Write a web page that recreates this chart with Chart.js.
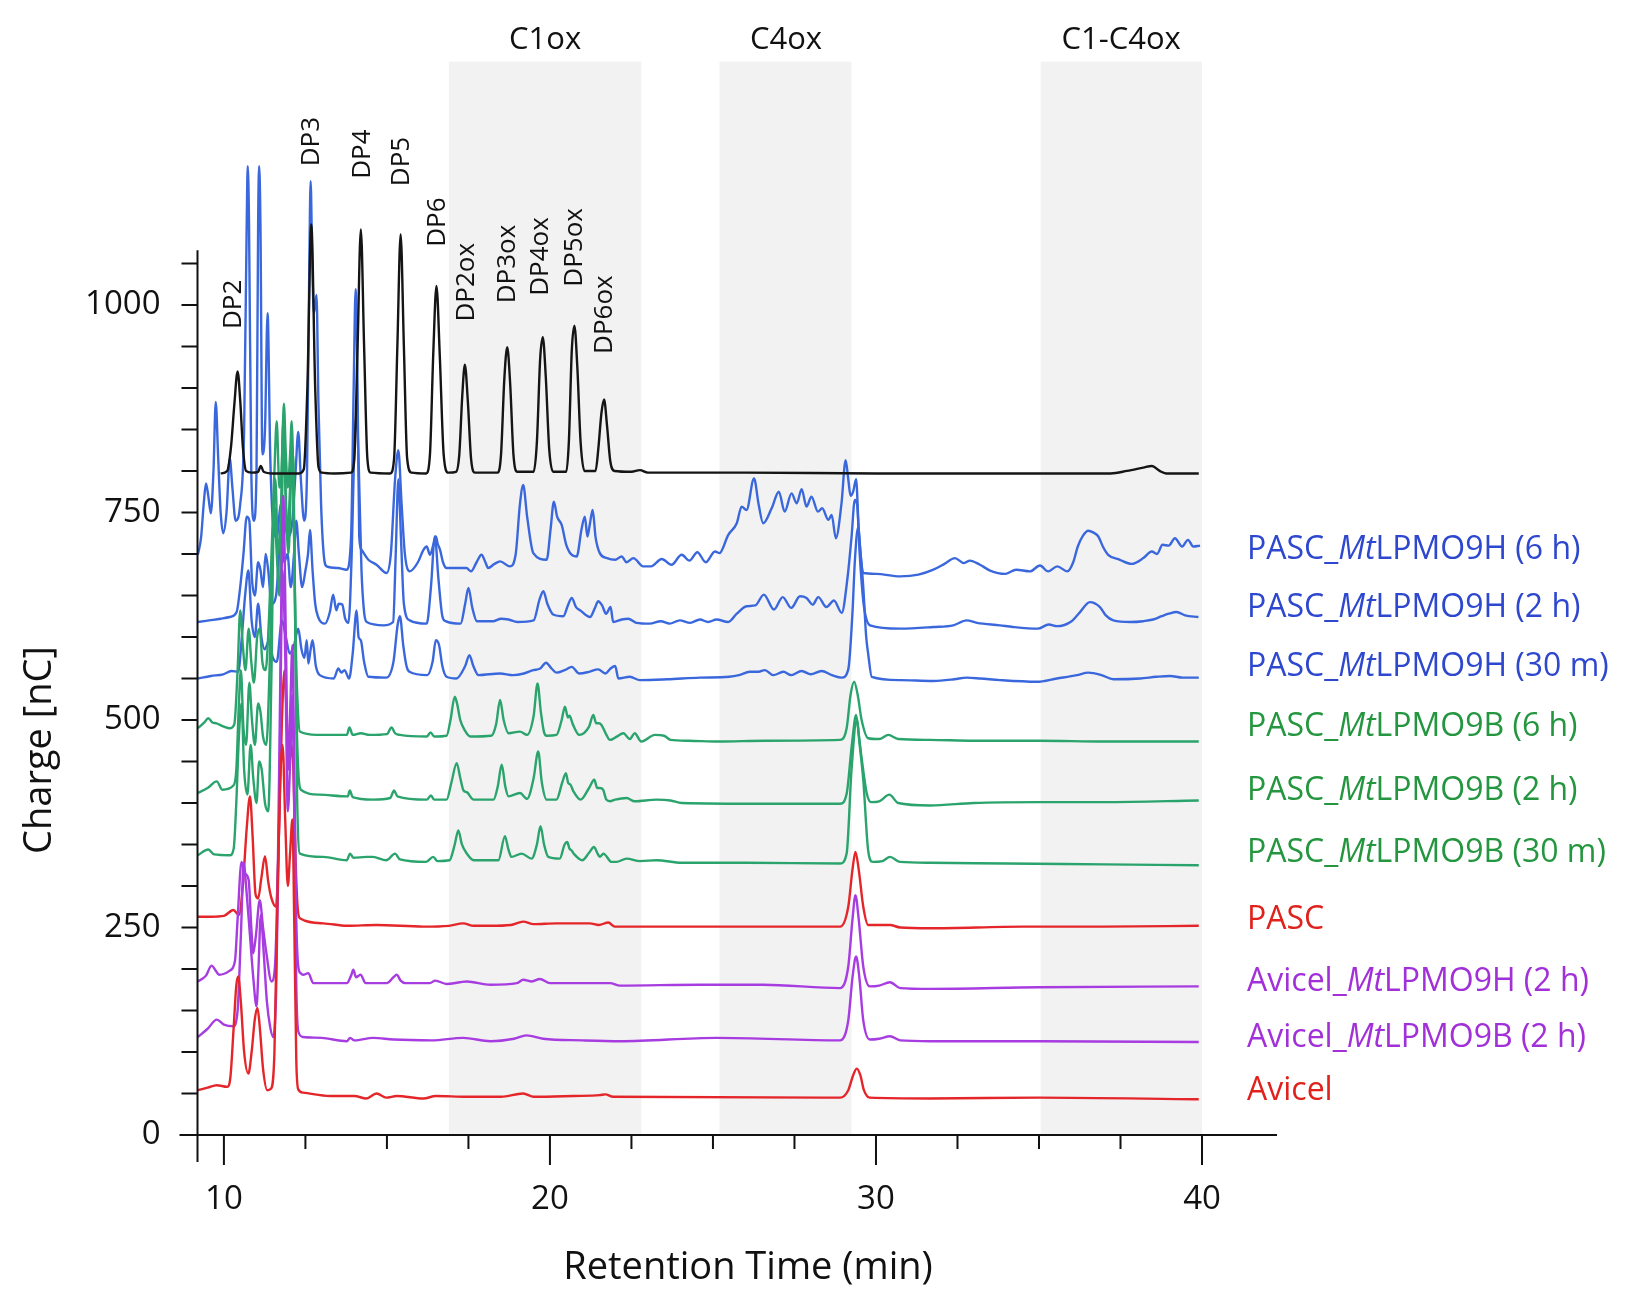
<!DOCTYPE html>
<html>
<head>
<meta charset="utf-8">
<script src="https://cdn.jsdelivr.net/npm/chart.js@4.4.1/dist/chart.umd.min.js"></script>
<style>
  html, body { margin: 0; padding: 0; background: #fff; }
  #wrap { width: 1650px; height: 1311px; }
</style>
</head>
<body>
<div id="wrap"><canvas id="chromChart" width="1650" height="1311"></canvas></div>
<script>
// Retention time (min) / charge (nC) pairs
const standardTrace = [[9.9,797],[10.1,800],[10.22,830],[10.32,880],[10.42,920],[10.5,885],[10.58,830],[10.68,800],[10.85,798],[11.05,799],[11.13,806],[11.22,799],[11.5,797],[12.3,797],[12.45,802],[12.56,900],[12.68,1097],[12.8,900],[12.9,805],[13.0,798],[13.4,797],[13.9,798],[14.0,815],[14.1,950],[14.2,1091],[14.3,950],[14.4,815],[14.5,798],[15.1,797],[15.22,815],[15.32,950],[15.42,1085],[15.52,950],[15.62,815],[15.75,798],[16.2,797],[16.32,820],[16.42,940],[16.52,1023],[16.62,940],[16.74,820],[16.88,798],[17.12,799],[17.22,820],[17.31,890],[17.39,928],[17.48,885],[17.58,815],[17.7,798],[18.4,798],[18.5,820],[18.6,910],[18.69,949],[18.78,905],[18.88,820],[19.0,799],[19.5,799],[19.6,835],[19.7,935],[19.78,961],[19.87,915],[19.98,825],[20.1,799],[20.5,799],[20.58,835],[20.67,945],[20.75,975],[20.84,925],[20.94,835],[21.06,800],[21.4,800],[21.48,825],[21.58,870],[21.66,886],[21.75,855],[21.85,812],[21.98,800],[22.5,799],[22.76,801],[23.0,798],[26.0,798],[30.0,797],[34.0,797],[37.2,797],[37.7,800],[38.2,804],[38.46,806],[38.7,800],[38.9,797],[39.9,797]];

const pascMt9H6h = [[9.2,699],[9.3,720],[9.38,760],[9.45,785],[9.52,770],[9.6,749],[9.68,800],[9.75,883],[9.82,820],[9.9,750],[9.98,725],[10.08,750],[10.18,815],[10.26,780],[10.36,740],[10.5,760],[10.62,850],[10.7,1100],[10.73,1167],[10.77,1100],[10.84,800],[10.92,740],[11.0,800],[11.05,1100],[11.08,1167],[11.12,1100],[11.18,820],[11.26,850],[11.34,990],[11.42,820],[11.5,740],[11.62,720],[11.75,760],[11.85,740],[11.98,720],[12.1,740],[12.2,800],[12.28,847],[12.36,790],[12.46,740],[12.55,800],[12.62,1050],[12.66,1149],[12.71,1050],[12.76,990],[12.84,1012],[12.9,880],[12.98,760],[13.06,700],[13.15,685],[13.5,683],[13.76,681],[13.9,720],[13.98,900],[14.04,1019],[14.1,900],[14.15,721],[14.22,705],[14.43,693],[14.68,687],[14.99,677],[15.12,700],[15.25,790],[15.35,825],[15.45,760],[15.55,700],[15.7,679],[15.95,690],[16.12,705],[16.22,709],[16.32,699],[16.43,712],[16.5,721],[16.56,712],[16.63,705],[16.72,690],[16.83,683],[17.44,683],[17.58,679],[17.75,690],[17.9,699],[18.02,690],[18.1,683],[18.3,688],[18.47,691],[18.77,685],[18.95,700],[19.08,760],[19.18,783],[19.3,745],[19.49,701],[19.9,693],[20.02,730],[20.12,763],[20.22,745],[20.36,735],[20.5,711],[20.7,698],[20.82,697],[20.97,730],[21.07,745],[21.15,721],[21.22,735],[21.31,753],[21.4,720],[21.53,701],[21.75,695],[22.0,693],[22.2,697],[22.35,690],[22.56,695],[22.86,685],[23.1,685],[23.43,694],[23.73,687],[24.04,699],[24.28,692],[24.52,702],[24.78,690],[25.06,703],[25.2,701],[25.47,723],[25.73,737],[25.88,757],[26.03,753],[26.26,791],[26.4,760],[26.54,737],[26.8,755],[27.02,775],[27.2,751],[27.41,773],[27.57,761],[27.72,778],[27.87,757],[28.02,769],[28.22,751],[28.35,755],[28.54,741],[28.64,747],[28.77,719],[28.94,760],[29.07,813],[29.15,790],[29.22,770],[29.3,775],[29.39,790],[29.47,730],[29.55,690],[29.61,677],[30.0,676],[30.74,673],[31.3,675],[31.76,681],[32.1,688],[32.42,695],[32.7,689],[32.88,692],[33.19,687],[33.5,680],[33.96,676],[34.3,681],[34.72,679],[35.03,686],[35.28,679],[35.56,685],[35.87,679],[36.05,690],[36.19,709],[36.35,722],[36.51,728],[36.66,726],[36.82,721],[36.97,708],[37.12,699],[37.48,693],[37.84,688],[38.2,695],[38.46,703],[38.62,700],[38.79,711],[38.98,710],[39.17,719],[39.39,709],[39.57,717],[39.73,709],[39.94,710]];

const pascMt9H2h = [[9.2,618],[9.55,620],[9.9,622],[10.18,624],[10.39,630],[10.5,660],[10.6,700],[10.7,745],[10.78,740],[10.86,670],[10.95,650],[11.05,690],[11.12,681],[11.2,660],[11.28,700],[11.36,680],[11.46,640],[11.6,650],[11.75,720],[11.85,690],[11.95,700],[12.05,660],[12.15,700],[12.22,740],[12.3,700],[12.4,660],[12.5,680],[12.58,700],[12.64,729],[12.72,680],[12.8,640],[12.89,624],[13.1,616],[13.25,630],[13.35,651],[13.45,632],[13.52,640],[13.63,639],[13.72,622],[13.82,617],[13.92,700],[14.0,830],[14.07,870],[14.14,800],[14.22,680],[14.3,630],[14.38,618],[14.9,614],[15.19,618],[15.27,700],[15.35,790],[15.43,720],[15.52,640],[15.7,620],[16.22,616],[16.35,660],[16.47,721],[16.58,670],[16.7,625],[16.8,619],[17.26,616],[17.4,640],[17.5,659],[17.62,635],[17.76,619],[18.27,619],[18.5,622],[18.73,621],[19.0,618],[19.5,620],[19.68,645],[19.8,655],[19.92,640],[20.1,627],[20.41,625],[20.55,638],[20.67,647],[20.8,636],[20.93,632],[21.23,624],[21.38,635],[21.48,643],[21.6,638],[21.72,628],[21.86,636],[21.94,618],[22.2,621],[22.4,622],[22.65,617],[23.06,616],[23.4,619],[23.67,616],[23.98,620],[24.3,617],[24.6,621],[24.85,618],[25.11,621],[25.47,618],[25.73,628],[26.03,637],[26.3,638],[26.56,651],[26.87,633],[27.14,648],[27.4,635],[27.67,649],[27.87,647],[28.06,639],[28.23,648],[28.48,636],[28.71,644],[28.95,629],[29.12,669],[29.25,720],[29.35,765],[29.42,760],[29.5,700],[29.62,640],[29.82,614],[30.74,610],[31.76,612],[32.37,614],[32.78,620],[33.1,617],[33.8,614],[34.2,612],[34.96,610],[35.3,615],[35.55,613],[36.0,619],[36.26,630],[36.56,642],[36.87,636],[37.05,626],[37.28,620],[37.8,618],[38.2,619],[38.5,621],[38.76,625],[38.98,628],[39.22,630],[39.48,626],[39.89,624]];

const pascMt9H30m = [[9.2,550],[9.6,553],[9.98,555],[10.23,559],[10.44,558],[10.55,600],[10.65,650],[10.75,680],[10.85,620],[10.95,600],[11.05,640],[11.15,600],[11.25,585],[11.39,596],[11.5,575],[11.62,570],[11.78,620],[11.9,600],[12.02,580],[12.15,590],[12.28,610],[12.38,585],[12.47,575],[12.54,596],[12.59,568],[12.66,585],[12.72,596],[12.82,565],[12.94,554],[13.37,550],[13.51,562],[13.6,557],[13.7,560],[13.84,550],[13.95,580],[14.07,632],[14.13,600],[14.2,596],[14.3,570],[14.43,552],[14.98,551],[15.2,570],[15.33,615],[15.4,625],[15.5,590],[15.6,565],[15.69,558],[16.24,554],[16.4,570],[16.5,596],[16.6,590],[16.7,565],[16.83,552],[17.13,550],[17.4,565],[17.53,578],[17.65,565],[17.81,554],[18.47,556],[18.87,554],[19.2,556],[19.49,560],[19.7,562],[19.88,569],[20.05,562],[20.2,557],[20.45,560],[20.67,564],[20.9,556],[21.2,558],[21.48,561],[21.7,556],[21.86,562],[22.0,565],[22.1,550],[22.45,552],[22.76,548],[23.6,549],[24.6,551],[25.5,552],[25.8,554],[26.13,558],[26.4,558],[26.59,560],[26.85,554],[27.16,558],[27.4,554],[27.72,559],[28.0,555],[28.33,559],[28.65,554],[28.95,551],[29.15,561],[29.28,630],[29.35,690],[29.45,732],[29.53,700],[29.61,660],[29.7,600],[29.76,580],[29.87,552],[30.74,548],[31.76,547],[32.4,549],[32.78,551],[33.2,550],[33.8,548],[34.93,546],[35.55,550],[36.16,554],[36.51,557],[36.92,554],[37.28,549],[38.1,550],[38.6,552],[39.02,553],[39.4,551],[39.9,551]];

const pascMt9B6h = [[9.2,490],[9.4,497],[9.52,502],[9.65,497],[9.77,496],[10.0,492],[10.18,490],[10.32,495],[10.42,560],[10.5,632],[10.58,590],[10.66,560],[10.76,610],[10.84,570],[10.92,545],[11.02,600],[11.1,610],[11.18,570],[11.28,560],[11.38,620],[11.46,700],[11.55,800],[11.62,860],[11.7,780],[11.77,800],[11.84,881],[11.9,820],[11.96,780],[12.03,820],[12.08,860],[12.14,760],[12.2,600],[12.26,520],[12.33,486],[12.85,482],[13.77,482],[13.85,491],[13.95,482],[14.2,484],[14.47,482],[15.0,483],[15.14,491],[15.25,484],[15.4,482],[16.22,480],[16.34,485],[16.45,480],[16.83,481],[16.95,500],[17.08,528],[17.15,520],[17.25,500],[17.38,488],[17.56,480],[18.2,481],[18.35,495],[18.47,524],[18.58,500],[18.73,484],[19.08,486],[19.3,482],[19.5,505],[19.62,544],[19.72,510],[19.82,485],[19.9,481],[20.2,482],[20.36,500],[20.46,516],[20.55,503],[20.6,505],[20.7,495],[20.9,482],[21.2,492],[21.33,506],[21.42,496],[21.5,496],[21.58,494],[21.72,483],[21.84,476],[22.05,480],[22.25,484],[22.45,477],[22.6,484],[22.8,474],[23.22,482],[23.5,481],[23.7,476],[24.25,475],[25.17,474],[26.6,475],[28.9,476],[29.1,490],[29.22,530],[29.33,546],[29.44,530],[29.56,500],[29.76,478],[30.1,477],[30.38,482],[30.68,477],[31.66,476],[33.0,475],[35.0,475],[37.0,474],[39.9,474]];

const pascMt9B2h = [[9.2,412],[9.5,418],[9.78,426],[9.95,416],[10.29,421],[10.38,440],[10.46,520],[10.52,560],[10.6,490],[10.68,470],[10.78,545],[10.86,500],[10.95,470],[11.05,520],[11.12,510],[11.2,480],[11.3,470],[11.4,560],[11.5,720],[11.58,790],[11.66,700],[11.74,740],[11.82,860],[11.88,790],[11.95,720],[12.03,780],[12.1,830],[12.16,700],[12.22,520],[12.28,440],[12.36,416],[12.94,410],[13.8,408],[13.86,415],[13.95,407],[14.57,404],[15.1,406],[15.22,415],[15.32,408],[16.22,404],[16.35,409],[16.45,404],[16.83,404],[16.98,425],[17.14,448],[17.25,430],[17.35,415],[17.45,413],[17.66,404],[18.27,404],[18.4,420],[18.52,446],[18.63,420],[18.73,408],[19.08,412],[19.3,405],[19.5,430],[19.64,462],[19.75,425],[19.9,404],[20.2,404],[20.38,425],[20.49,436],[20.56,424],[20.63,422],[20.72,414],[20.94,404],[21.2,418],[21.36,428],[21.45,418],[21.53,418],[21.63,416],[21.73,404],[21.84,402],[22.0,404],[22.35,406],[22.6,402],[23.27,404],[23.7,403],[24.04,400],[26.6,399],[28.9,399],[29.1,411],[29.26,470],[29.39,506],[29.48,480],[29.56,454],[29.72,411],[29.85,401],[30.1,402],[30.41,410],[30.68,400],[31.66,397],[33.0,400],[35.0,401],[37.0,401],[39.9,403]];

const pascMt9B30m = [[9.2,337],[9.52,344],[9.7,338],[10.18,337],[10.3,345],[10.38,400],[10.46,480],[10.54,520],[10.62,440],[10.72,410],[10.82,470],[10.9,430],[11.0,400],[11.08,450],[11.16,440],[11.26,400],[11.36,390],[11.46,560],[11.54,760],[11.62,700],[11.7,650],[11.78,760],[11.84,845],[11.9,760],[11.98,700],[12.06,790],[12.12,820],[12.18,640],[12.24,420],[12.33,339],[13.05,335],[13.77,331],[13.87,339],[13.97,334],[14.37,335],[14.57,335],[14.98,331],[15.25,339],[15.4,332],[16.2,329],[16.42,335],[16.55,330],[16.92,331],[17.08,350],[17.19,367],[17.3,350],[17.45,339],[17.66,331],[18.42,331],[18.62,360],[18.72,345],[18.82,335],[19.13,339],[19.44,333],[19.6,350],[19.71,372],[19.82,350],[19.95,335],[20.3,333],[20.45,350],[20.53,353],[20.6,345],[20.66,343],[20.75,338],[20.99,331],[21.2,340],[21.35,347],[21.45,340],[21.53,335],[21.64,339],[21.89,329],[22.04,329],[22.35,333],[22.76,330],[23.27,331],[24.04,328],[26.0,328],[28.9,327],[29.1,339],[29.25,440],[29.41,500],[29.5,470],[29.61,428],[29.76,343],[29.9,329],[30.2,330],[30.43,335],[30.74,329],[31.66,328],[34.0,327],[37.0,326],[39.9,325]];

const pascControl = [[9.2,263],[9.6,263],[10.0,264],[10.29,271],[10.46,265],[10.58,300],[10.7,370],[10.8,408],[10.88,360],[10.97,290],[11.05,285],[11.15,310],[11.26,336],[11.36,305],[11.46,285],[11.6,275],[11.7,380],[11.78,500],[11.86,560],[11.93,500],[12.0,445],[12.07,470],[12.13,440],[12.2,330],[12.26,275],[12.33,261],[13.05,255],[13.77,252],[14.69,253],[16.12,251],[16.9,252],[17.34,255],[17.66,252],[18.17,252],[18.8,253],[19.18,257],[19.5,254],[20.2,255],[21.22,255],[21.5,253],[21.79,256],[21.99,251],[24.6,251],[28.9,251],[29.15,275],[29.28,320],[29.37,341],[29.47,320],[29.61,275],[29.76,253],[30.43,253],[30.74,250],[31.66,249],[34.5,251],[37.0,251],[39.9,252]];

const avicelMt9H2h = [[9.2,185],[9.45,192],[9.62,204],[9.75,198],[9.85,193],[10.18,198],[10.34,210],[10.42,260],[10.54,329],[10.65,315],[10.76,307],[10.84,250],[10.9,219],[10.98,240],[11.1,283],[11.2,250],[11.3,220],[11.46,185],[11.56,200],[11.66,340],[11.74,580],[11.82,770],[11.9,600],[11.97,440],[12.04,520],[12.1,590],[12.16,430],[12.22,260],[12.28,203],[12.35,195],[12.43,193],[12.59,195],[12.74,183],[13.77,183],[13.9,192],[13.97,199],[14.05,190],[14.19,193],[14.35,183],[15.0,183],[15.2,190],[15.3,193],[15.42,186],[15.56,183],[16.32,183],[16.48,186],[16.83,182],[17.24,184],[17.45,185],[18.17,181],[18.99,183],[19.18,187],[19.45,185],[19.69,188],[20.0,183],[20.71,183],[21.84,183],[22.15,180],[24.6,181],[26.54,181],[28.9,177],[29.15,203],[29.28,260],[29.37,289],[29.47,260],[29.61,203],[29.81,179],[30.1,180],[30.43,184],[30.74,177],[31.66,176],[35.0,178],[39.9,179]];

const avicelMt9B2h = [[9.2,118],[9.5,128],[9.78,139],[10.0,133],[10.29,131],[10.42,150],[10.52,240],[10.61,328],[10.68,300],[10.8,240],[10.9,190],[11.0,155],[11.06,200],[11.13,265],[11.22,220],[11.32,160],[11.42,130],[11.51,118],[11.6,170],[11.7,400],[11.8,680],[11.88,580],[11.96,390],[12.04,460],[12.1,530],[12.16,380],[12.22,180],[12.28,125],[12.43,118],[13.0,117],[13.77,113],[13.87,117],[14.0,114],[14.58,117],[15.2,115],[16.37,114],[17.34,117],[18.17,113],[18.9,116],[19.28,120],[19.79,116],[21.0,114],[22.15,113],[25.11,117],[28.9,114],[29.15,138],[29.28,190],[29.39,215],[29.49,190],[29.61,138],[29.81,115],[30.1,116],[30.43,119],[30.74,114],[31.66,113],[35.0,113],[39.9,112]];

const avicelControl = [[9.2,54],[9.5,57],[9.78,60],[10.1,58],[10.2,70],[10.3,130],[10.38,180],[10.44,191],[10.52,160],[10.62,100],[10.75,74],[10.85,100],[10.95,140],[11.03,153],[11.1,130],[11.2,80],[11.33,54],[11.45,56],[11.55,100],[11.63,260],[11.72,420],[11.8,470],[11.88,380],[11.96,300],[12.03,340],[12.1,380],[12.16,250],[12.22,90],[12.28,55],[12.43,51],[13.25,47],[14.0,47],[14.37,44],[14.68,50],[14.98,45],[15.3,47],[16.12,44],[16.5,47],[17.45,46],[18.5,46],[19.18,50],[19.5,46],[20.71,47],[21.53,48],[21.7,49],[21.94,46],[28.9,45],[29.15,54],[29.3,72],[29.41,80],[29.52,72],[29.63,54],[29.81,45],[31.66,44],[35.0,45],[39.9,43]];

// Sample names (top to bottom) and where each name sits on the charge axis
const sampleNames = ['PASC_MtLPMO9H (6 h)', 'PASC_MtLPMO9H (2 h)', 'PASC_MtLPMO9H (30 m)',
  'PASC_MtLPMO9B (6 h)', 'PASC_MtLPMO9B (2 h)', 'PASC_MtLPMO9B (30 m)',
  'PASC', 'Avicel_MtLPMO9H (2 h)', 'Avicel_MtLPMO9B (2 h)', 'Avicel'];
const sampleNameLevels = [705, 635, 564, 492, 414, 340, 259, 184, 117, 53];

// Product regions (min) and peak annotations [name, time, charge]
const regionNames = ['C1ox', 'C4ox', 'C1-C4ox'];
const regionStarts = [16.9, 25.2, 35.05];
const regionEnds = [22.8, 29.25, 40.0];
const peakNames = ['DP2', 'DP3', 'DP4', 'DP5', 'DP6', 'DP2ox', 'DP3ox', 'DP4ox', 'DP5ox', 'DP6ox'];
const peakTimes = [10.31, 12.7, 14.26, 15.46, 16.56, 17.45, 18.71, 19.72, 20.77, 21.69];
const peakLevels = [971, 1167, 1152, 1143, 1070, 980, 1002, 1011, 1022, 941];

// Axis ticks
const xMajorTicks = [10, 20, 30, 40];
const xMinorTicks = [12.5, 15, 17.5, 22.5, 25, 27.5, 32.5, 35, 37.5];
const yMajorTicks = [0, 250, 500, 750, 1000];
const yMinorTicks = [50, 100, 150, 200, 300, 350, 400, 450, 550, 600, 650, 700, 800, 850, 900, 950, 1050];

const BLUE = '#3a68dc', GREEN = '#2aa46c', RED = '#e4262a', PURPLE = '#a73ce0', BLACK = '#151515';
const sampleColors = ['#2d47cf', '#2d47cf', '#2d47cf', '#24963f', '#24963f', '#24963f', '#e0211c', '#a230d8', '#a230d8', '#e0211c'];

const FONT = "'Open Sans', 'DejaVu Sans', sans-serif";

function toPoints(arr) {
  return arr.map(p => ({ x: p[0], y: p[1] }));
}

function trace(label, arr, color) {
  return {
    label: label,
    data: toPoints(arr),
    borderColor: color,
    borderWidth: 2.4,
    pointRadius: 0,
    fill: false,
    cubicInterpolationMode: 'monotone'
  };
}

// draw a name with the "Mt" part in italic
function drawSampleName(ctx, name, x, y, color) {
  ctx.fillStyle = color;
  ctx.textBaseline = 'middle';
  ctx.textAlign = 'left';
  const parts = name.split('Mt');
  ctx.font = '32px ' + FONT;
  ctx.fillText(parts[0], x, y);
  if (parts.length < 2) return;
  let cx = x + ctx.measureText(parts[0]).width;
  ctx.font = 'italic 32px ' + FONT;
  ctx.fillText('Mt', cx, y);
  cx += ctx.measureText('Mt').width;
  ctx.font = '32px ' + FONT;
  ctx.fillText(parts[1], cx, y);
}

const decorPlugin = {
  id: 'decor',
  beforeDatasetsDraw(chart) {
    const ctx = chart.ctx;
    const xs = chart.scales.x, ys = chart.scales.y;
    ctx.save();
    ctx.fillStyle = '#f2f2f2';
    const top = ys.getPixelForValue(1293), bottom = ys.getPixelForValue(0);
    for (let i = 0; i < regionStarts.length; i++) {
      const l = xs.getPixelForValue(regionStarts[i]);
      const r = xs.getPixelForValue(regionEnds[i]);
      ctx.fillRect(l, top, r - l, bottom - top);
    }
    ctx.restore();
  },
  afterDatasetsDraw(chart) {
    const ctx = chart.ctx;
    const xs = chart.scales.x, ys = chart.scales.y;
    const x0 = xs.getPixelForValue(xs.min);
    const y0 = ys.getPixelForValue(0);
    ctx.save();
    ctx.strokeStyle = '#111';
    ctx.lineWidth = 2;
    ctx.beginPath();
    // axes lines
    ctx.moveTo(x0 - 18, y0);
    ctx.lineTo(xs.getPixelForValue(xs.max), y0);
    ctx.moveTo(x0, y0 + 27);
    ctx.lineTo(x0, ys.getPixelForValue(1066));
    yMajorTicks.concat(yMinorTicks).forEach(v => {
      const py = ys.getPixelForValue(v);
      ctx.moveTo(x0 - 16, py);
      ctx.lineTo(x0, py);
    });
    xMajorTicks.forEach(v => {
      const px = xs.getPixelForValue(v);
      ctx.moveTo(px, y0);
      ctx.lineTo(px, y0 + 30);
    });
    xMinorTicks.forEach(v => {
      const px = xs.getPixelForValue(v);
      ctx.moveTo(px, y0);
      ctx.lineTo(px, y0 + 14);
    });
    ctx.stroke();

    ctx.fillStyle = '#111';
    ctx.font = '33px ' + FONT;
    ctx.textAlign = 'center';
    ctx.textBaseline = 'middle';
    xMajorTicks.forEach(v => ctx.fillText(String(v), xs.getPixelForValue(v), y0 + 65));
    ctx.textAlign = 'right';
    yMajorTicks.forEach(v => ctx.fillText(String(v), x0 - 37, ys.getPixelForValue(v)));

    // axis titles
    ctx.font = '38px ' + FONT;
    ctx.textAlign = 'center';
    ctx.fillText('Retention Time (min)', 748, 1268);
    ctx.save();
    ctx.translate(40, 750);
    ctx.rotate(-Math.PI / 2);
    ctx.fillText('Charge [nC]', 0, 0);
    ctx.restore();

    // region names
    ctx.font = '31px ' + FONT;
    const regionLabelX = [19.85, 27.24, 37.52];
    regionNames.forEach((n, i) => ctx.fillText(n, xs.getPixelForValue(regionLabelX[i]), ys.getPixelForValue(1319)));

    // peak names, rotated
    ctx.font = '26px ' + FONT;
    ctx.textAlign = 'left';
    peakNames.forEach((n, i) => {
      ctx.save();
      ctx.translate(xs.getPixelForValue(peakTimes[i]), ys.getPixelForValue(peakLevels[i]));
      ctx.rotate(-Math.PI / 2);
      ctx.fillText(n, 0, 0);
      ctx.restore();
    });

    // sample names on the right
    const nameX = xs.getPixelForValue(41.38);
    sampleNames.forEach((n, i) => drawSampleName(ctx, n, nameX, ys.getPixelForValue(sampleNameLevels[i]), sampleColors[i]));
    ctx.restore();
  }
};

const ctx = document.getElementById('chromChart').getContext('2d');
const chromChart = new Chart(ctx, {
  type: 'line',
  data: {
    datasets: [
      trace('Standard', standardTrace, BLACK),
      trace('Avicel', avicelControl, RED),
      trace('Avicel_MtLPMO9B (2 h)', avicelMt9B2h, PURPLE),
      trace('Avicel_MtLPMO9H (2 h)', avicelMt9H2h, PURPLE),
      trace('PASC', pascControl, RED),
      trace('PASC_MtLPMO9B (30 m)', pascMt9B30m, GREEN),
      trace('PASC_MtLPMO9B (2 h)', pascMt9B2h, GREEN),
      trace('PASC_MtLPMO9B (6 h)', pascMt9B6h, GREEN),
      trace('PASC_MtLPMO9H (30 m)', pascMt9H30m, BLUE),
      trace('PASC_MtLPMO9H (2 h)', pascMt9H2h, BLUE),
      trace('PASC_MtLPMO9H (6 h)', pascMt9H6h, BLUE)
    ]
  },
  options: {
    responsive: false,
    devicePixelRatio: 1,
    animation: false,
    layout: { padding: { left: 197.5, right: 373, top: 31, bottom: 176 } },
    scales: {
      x: { type: 'linear', min: 9.19, max: 42.3, display: false },
      y: { type: 'linear', min: 0, max: 1330, display: false }
    },
    plugins: {
      legend: { display: false },
      tooltip: { enabled: false }
    }
  },
  plugins: [decorPlugin]
});
</script>
</body>
</html>
